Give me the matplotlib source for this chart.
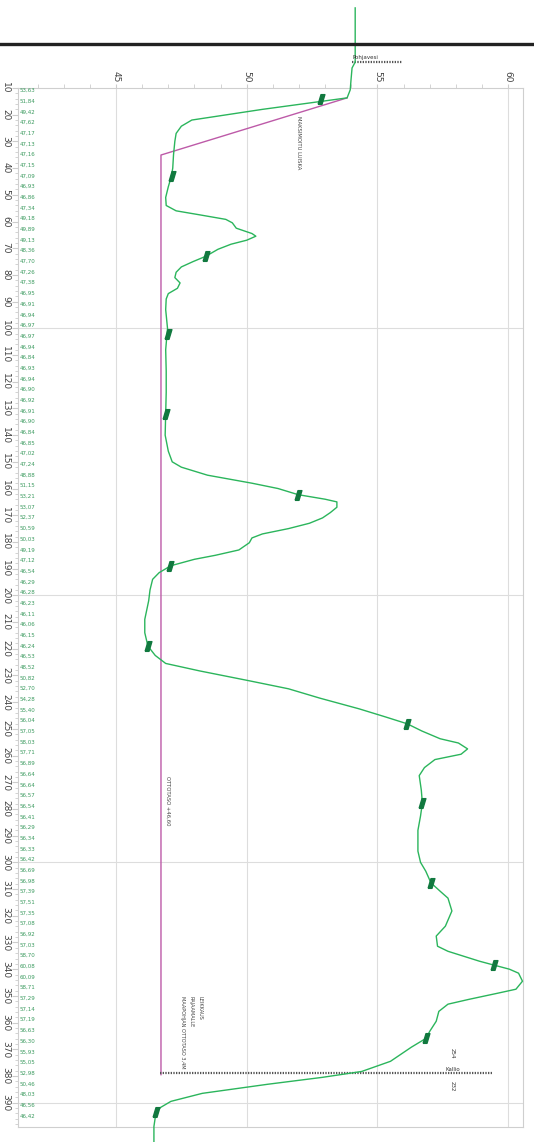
import numpy as np
import matplotlib
matplotlib.use("Agg")
import matplotlib.pyplot as plt
from matplotlib.lines import Line2D
from matplotlib.ticker import MultipleLocator

plt.rcParams['font.family'] = ['DejaVu Sans']

# ---- sample labels (every 4 m, depth 10..394) ----
label_depths = list(range(10, 395, 4))
label_values = [
    53.63, 51.84, 49.42, 47.62, 47.17, 47.13, 47.16, 47.15, 47.09, 46.93,
    46.86, 47.34, 49.18, 49.89, 49.13, 48.36, 47.70, 47.26, 47.38, 46.95,
    46.91, 46.94, 46.97,
    46.97, 46.94, 46.84, 46.93, 46.94, 46.90, 46.92, 46.91, 46.90, 46.84,
    46.85, 47.02, 47.24, 48.88, 51.15, 53.21, 53.07, 52.37, 50.59, 50.03,
    49.19, 47.12, 46.54, 46.29, 46.28,
    46.23, 46.11, 46.06, 46.15, 46.24, 46.53, 48.52, 50.82, 52.70, 54.28,
    55.40, 56.04, 57.05, 58.03, 57.71, 56.89, 56.64, 56.64, 56.57, 56.54,
    56.41, 56.29, 56.34, 56.33, 56.42,
    56.69, 56.98, 57.39, 57.51, 57.35, 57.08, 56.92, 57.03, 58.70, 60.08,
    60.09, 58.71, 57.29, 57.14, 57.19, 56.63, 56.30, 55.93, 55.05, 52.98,
    50.46, 48.03, 46.56, 46.42,
]

# ---- continuous profile line ----
profile_depth = [
    -20, 0.3, 2.5, 7, 10.7, 13.7, 18, 22, 24.3, 27, 30, 35, 40, 43, 47, 51, 54,
    56, 57.5, 59.2, 60.5, 62.5, 64.5, 65.5, 67, 68.5, 70.4, 73, 75, 77, 79, 81,
    83, 85, 87, 89, 93, 100, 108, 116, 124, 132, 140, 146, 150, 152, 155, 158,
    160, 162.3, 164, 165, 167, 169, 171, 173, 175, 177, 178.5, 180.3, 183, 185,
    186.5, 188.9, 191.5, 194, 198, 202, 209, 214, 219, 222.5, 225.5, 228.3,
    232, 235, 238.5, 242.5, 245.5, 248.1, 250.8, 253.7, 255.3, 257.5, 259.5,
    261.5, 264.5, 267.5, 273, 277.8, 282.6, 288, 295.8, 300, 303.3, 307.7,
    310.8, 313.4, 318.2, 323.9, 327.6, 331.4, 333.3, 337, 338.5, 340, 341.5,
    344.5, 347.5, 349, 351.3, 353.1, 355.8, 359.5, 363.3, 365.9, 369.2, 374.5,
    378.3, 380.5, 383.1, 386.5, 389.5, 391.8, 393.6, 398.9, 405.3,
]
profile_value = [
    54.15, 54.15, 54.03, 53.99, 53.96, 53.84, 50.6, 47.9, 47.5, 47.3, 47.25,
    47.2, 47.17, 47.12, 47.0, 46.9, 46.92, 47.3, 48.2, 49.2, 49.45, 49.6, 50.2,
    50.35, 50.0, 49.4, 48.9, 48.44, 47.95, 47.5, 47.3, 47.25, 47.45, 47.35,
    47.0, 46.92, 46.9, 46.97, 46.9, 46.92, 46.92, 46.9, 46.88, 47.0, 47.15,
    47.5, 48.5, 50.2, 51.2, 51.97, 53.0, 53.45, 53.45, 53.2, 52.9, 52.4, 51.6,
    50.6, 50.2, 50.1, 49.7, 48.8, 48.0, 47.1, 46.65, 46.4, 46.3, 46.25, 46.1,
    46.1, 46.22, 46.5, 46.9, 48.2, 50.1, 51.6, 52.8, 54.3, 55.3, 56.14, 56.7,
    57.4, 58.1, 58.45, 58.2, 57.2, 56.8, 56.6, 56.68, 56.72, 56.65, 56.55,
    56.55, 56.65, 56.85, 57.05, 57.4, 57.7, 57.85, 57.6, 57.25, 57.3, 57.7, 58.9,
    59.47, 60.05, 60.4, 60.55, 60.3, 59.6, 58.5, 57.7, 57.35, 57.25, 57.0,
    56.86, 56.3, 55.5, 54.4, 52.9, 50.8, 48.3, 47.1, 46.7, 46.53, 46.45, 46.45,
]

# ---- sample markers ----
marker_depth = [14.1, 43.0, 73.0, 102.3, 131.9, 162.3, 188.9, 218.9, 248.1,
                277.8, 307.8, 338.5, 365.9, 393.6]
marker_value = [52.85, 47.14, 48.44, 46.97, 46.93, 51.97, 47.07, 46.22, 56.14,
                56.72, 57.05, 59.47, 56.86, 46.53]

# ---- design (slope + extraction level) ----
design_value = [53.84, 46.72, 46.72]
design_depth = [13.7, 35.1, 379.5]

gw_depth = 0.25
gw_range = [54.03, 55.94]
rock_depth = 379.0
rock_range = [46.68, 59.43]

x_ticks = [45, 50, 55, 60]
y_ticks = list(range(10, 391, 10))
h_grid = [100, 200, 300, 390]

W, H = 534, 1142
fig = plt.figure(figsize=(W / 100, H / 100), dpi=100)
ax = fig.add_axes([18 / W, 1 - 1127 / H, (523 - 18) / W, (1127 - 88) / H])
ax.set_xlim(41.25, 60.57)
ax.set_ylim(399.1, 10)

for s in ax.spines.values():
    s.set_color('#cfcfcf')
    s.set_linewidth(0.8)

ax.xaxis.tick_top()
ax.set_xticks(x_ticks)
ax.set_xticklabels([str(t) for t in x_ticks], rotation=-90, fontsize=6.5, color='#444444')
ax.xaxis.set_minor_locator(MultipleLocator(1))
ax.tick_params(axis='x', which='major', length=3, color='#cccccc', pad=1)
ax.tick_params(axis='x', which='minor', length=3, color='#cccccc')

ax.set_yticks(y_ticks)
ax.set_yticklabels([str(t) for t in y_ticks], rotation=-90, fontsize=6.5,
                   color='#444444', va='center')
ax.yaxis.set_minor_locator(MultipleLocator(2))
ax.tick_params(axis='y', which='major', length=4, color='#cccccc', pad=1.5)
ax.tick_params(axis='y', which='minor', length=2, color='#cccccc')

for xv in x_ticks:
    ax.axvline(xv, color='#dddddd', lw=0.8, zorder=0)
for yv in h_grid:
    ax.axhline(yv, color='#dddddd', lw=0.8, zorder=0)

# value labels
for d, v in zip(label_depths, label_values):
    ax.text(0.004, d, f"{v:.2f}".replace('.', ','), transform=ax.get_yaxis_transform(),
            fontsize=4.0, color='#3a9a5e', va='top', ha='left')

# design line
ax.plot(design_value, design_depth, color='#bd5aa8', lw=1.0, zorder=2)

# profile line
ax.plot(profile_value, profile_depth, color='#2bb55c', lw=1.0, zorder=3, clip_on=False)

# markers
mverts = [(-0.7, -1), (0.1, -1), (0.7, 1), (-0.1, 1), (-0.7, -1)]
ax.plot(marker_value, marker_depth, ls='none', marker=mverts, markersize=7,
        color='#11793f', zorder=4)

# groundwater level
ax.plot(gw_range, [gw_depth, gw_depth], color='#555555', lw=1.6, ls=(0, (0.6, 0.6)),
        clip_on=False)
ax.text(gw_range[0], gw_depth - 0.6, "Pohjavesi", fontsize=4, color='#333333',
        ha='left', va='bottom', clip_on=False)

# bedrock level
ax.plot(rock_range, [rock_depth, rock_depth], color='#555555', lw=1.6, ls=(0, (0.6, 0.6)))
ax.text(57.9, rock_depth - 0.6, "Kallio", fontsize=4, color='#333333',
        ha='center', va='bottom')
ax.text(57.86, 371.5, "254", fontsize=4, color='#333333', rotation=-90,
        ha='center', va='center')
ax.text(57.86, 384.0, "232", fontsize=4, color='#333333', rotation=-90,
        ha='center', va='center')

# annotations
ax.text(51.97, 30.3, "MAKSIMOITU LUISKA", fontsize=3.8, color='#444444',
        rotation=-90, ha='center', va='center')
ax.text(46.88, 277, "OTTOTASO +46,60", fontsize=3.8, color='#444444',
        rotation=-90, ha='left', va='center')
ax.text(47.88, 350.1, "LEIKKAUS\nRAJAAMALLE\nMAAPOHJAN OTTOTASO 3,4M", fontsize=3.6,
        color='#444444', rotation=-90, ha='center', va='top', linespacing=1.9,
        multialignment='left')

# header separator
fig.add_artist(Line2D([0, 1], [1 - 43.5 / H, 1 - 43.5 / H], transform=fig.transFigure,
                      color='#222222', lw=2.4, zorder=1))

fig.savefig("out.png", dpi=100)
